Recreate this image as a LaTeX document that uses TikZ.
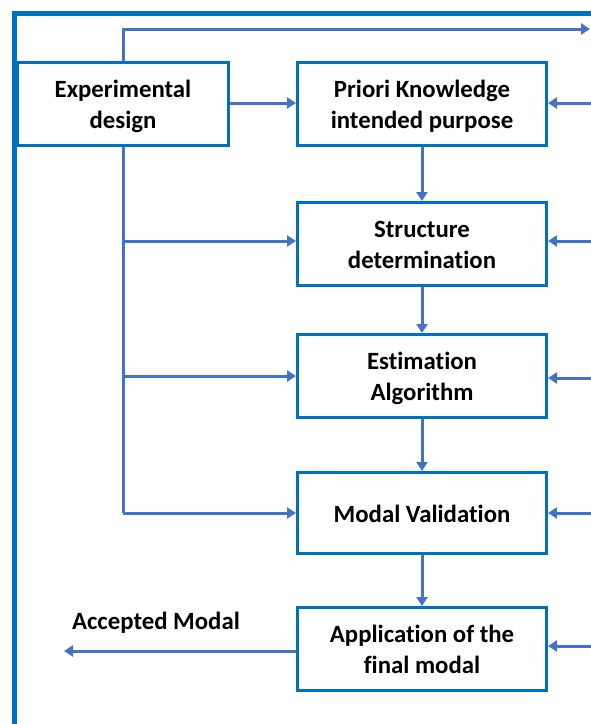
\documentclass[tikz,border=0pt]{standalone}
\usepackage{fontspec}
\setmainfont{Carlito}[Ligatures=NoCommon]
\usetikzlibrary{arrows.meta}
\definecolor{framecol}{HTML}{0070C0}
\definecolor{linkcol}{HTML}{4472C4}
% box label: centred lines, set slightly below the middle of the box
\newcommand\celltext[1]{\raisebox{-3pt}[\height][\depth]{\begin{tabular}{@{}c@{}}#1\end{tabular}}}
\tikzset{
  box/.style={draw=framecol, line width=3pt, fill=white, minimum width=249pt, minimum height=83pt,
    font=\fontsize{24.8}{31}\selectfont\bfseries, inner sep=0pt},
  link/.style={draw=linkcol, line width=3pt, -{Triangle[width=11pt,length=9pt]}},
  plain/.style={draw=linkcol, line width=3pt}
}
\begin{document}
\begin{tikzpicture}[x=1pt,y=-1pt]
  \useasboundingbox (0,0) rectangle (590,724);
  % outer frame
  \draw[framecol, line width=5pt] (14,724) -- (14,13) -- (592,13);
  % boxes
  \node[box, minimum width=211pt] (exp) at (123,104) {\celltext{Experimental\\design}};
  \node[box] (pri) at (422,104) {\celltext{Priori Knowledge\\intended purpose}};
  \node[box] (str) at (422,244) {\celltext{Structure\\determination}};
  \node[box] (est) at (422,376) {\celltext{Estimation\\Algorithm}};
  \node[box, minimum height=81pt] (val) at (422,513) {\celltext{Modal Validation}};
  \node[box] (app) at (422,649) {\celltext{Application of the\\final modal}};
  % coordinates at the edges
  \coordinate (topright) at (590,29);
  \coordinate (r1) at (592,103);
  \coordinate (r2) at (592,241);
  \coordinate (r3) at (592,378);
  \coordinate (r4) at (592,513);
  \coordinate (r5) at (592,646);
  \coordinate (acc) at (64,651);
  % feedback line leaving the top
  \draw[link] (exp.north) |- (topright);
  % experimental design feeds the chain
  \draw[link] (exp.east |- 0,103) -- (pri.west |- 0,103);
  \draw[plain] (exp.south) -- (123,513);
  \draw[link] (123,241) -- (str.west |- 0,241);
  \draw[link] (123,376) -- (est.west |- 0,376);
  \draw[link] (123,513) -- (val.west |- 0,513);
  % main chain
  \draw[link] (pri) -- (str);
  \draw[link] (str) -- (est);
  \draw[link] (est) -- (val);
  \draw[link] (val) -- (app);
  % inputs from the right
  \draw[link] (r1) -- (pri.east |- r1);
  \draw[link] (r2) -- (str.east |- r2);
  \draw[link] (r3) -- (est.east |- r3);
  \draw[link] (r4) -- (val.east |- r4);
  \draw[link] (r5) -- (app.east |- r5);
  % output
  \draw[link] (app.west |- acc) -- (acc);
  \node[font=\fontsize{24.8}{28}\selectfont\bfseries, anchor=center] (acclabel) at (156,623) {Accepted Modal};
\end{tikzpicture}
\end{document}
